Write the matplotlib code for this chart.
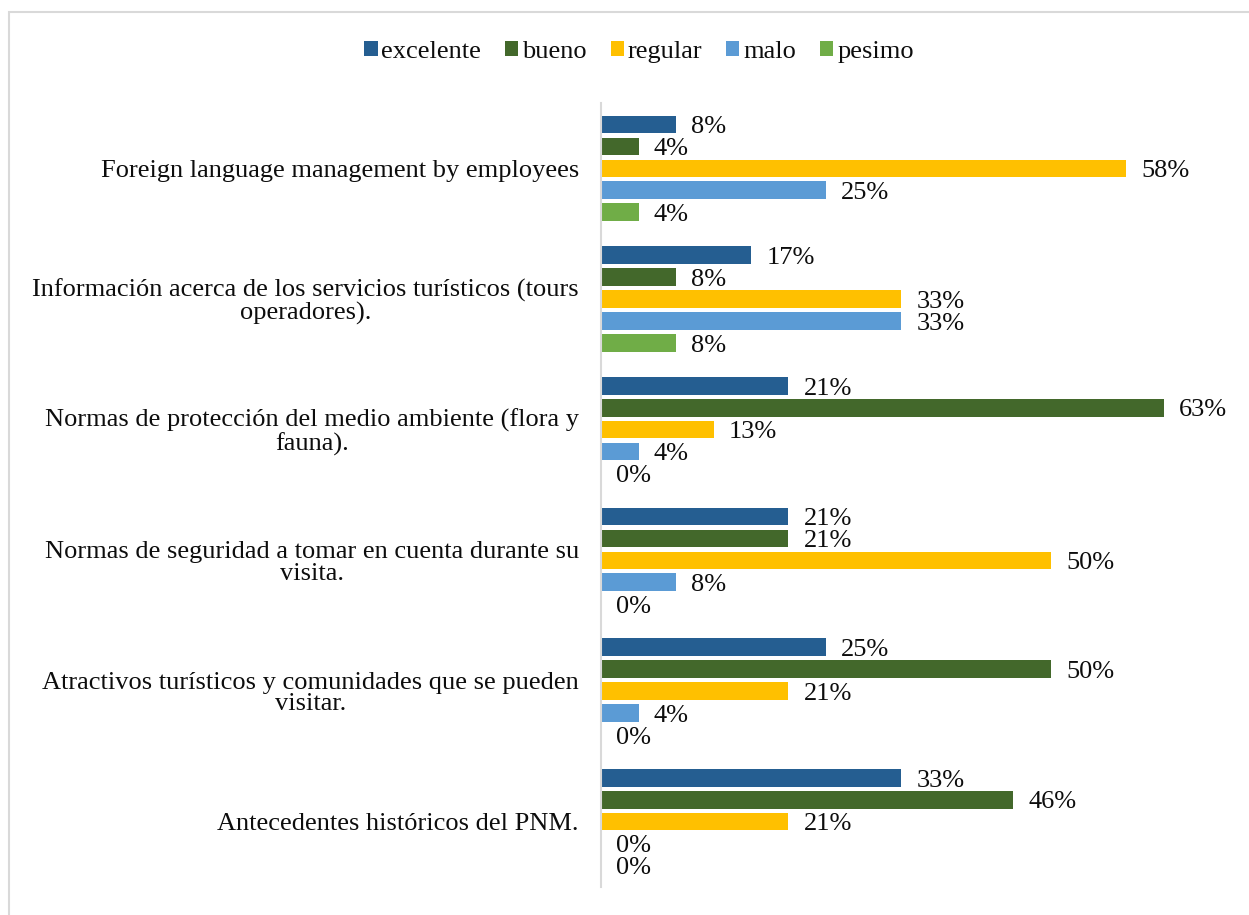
import numpy as np
import matplotlib.pyplot as plt
from matplotlib.patches import Rectangle, Patch

plt.rcParams['font.family'] = ['Liberation Serif', 'DejaVu Serif']

# categories from top to bottom
categories = [
    'Foreign language management by employees',
    'Información acerca de los servicios turísticos (tours\noperadores).',
    'Normas de protección del medio ambiente (flora y\nfauna).',
    'Normas de seguridad a tomar en cuenta durante su\nvisita.',
    'Atractivos turísticos y comunidades que se pueden\nvisitar.',
    'Antecedentes históricos del PNM.',
]
series = ['excelente', 'bueno', 'regular', 'malo', 'pesimo']
colors = ['#255E91', '#43682B', '#FFC000', '#5B9BD5', '#70AD47']

# percentages (n = 24 answers), one list per rating
excelente = [8.33, 16.67, 20.83, 20.83, 25.00, 33.33]
bueno = [4.17, 8.33, 62.50, 20.83, 50.00, 45.83]
regular = [58.33, 33.33, 12.50, 50.00, 20.83, 20.83]
malo = [25.00, 33.33, 4.17, 8.33, 4.17, 0.00]
pesimo = [4.17, 8.33, 0.00, 0.00, 0.00, 0.00]
values = [excelente, bueno, regular, malo, pesimo]

FS = 19
TXT = '#0d0d0d'

fig = plt.figure(figsize=(12.49, 9.15), dpi=100)
ax = fig.add_axes([601 / 1249, 1 - 887 / 915, 630 / 1249, 784 / 915])

# outer chart frame
fig.patches.append(Rectangle((9 / 1249, -0.1), 1.2, 1 - 12 / 915 + 0.1,
                             transform=fig.transFigure, fill=False,
                             edgecolor='#d9d9d9', linewidth=1.5))

n_cat = len(categories)
slot = 0.168
height = 0.135
centers = np.arange(n_cat)[::-1]  # top category gets the highest y

for i, (name, vals, col) in enumerate(zip(series, values, colors)):
    y = centers + (2 - i) * slot
    ax.barh(y, vals, height=height, color=col, label=name)
    for yy, v in zip(y, vals):
        ax.annotate(f'{int(v + 0.5)}%', xy=(v, yy), xytext=(11, -2),
                    textcoords='offset points', va='center', ha='left',
                    fontsize=FS, color=TXT)

ax.set_xlim(0, 70)
ax.set_ylim(-0.5, n_cat - 0.5)
ax.set_yticks(centers)
ax.set_yticklabels(categories, fontsize=FS, color=TXT, linespacing=1.0,
                   multialignment='center')
ax.tick_params(axis='y', length=0, pad=16)
ax.set_xticks([])
for s in ['top', 'right', 'bottom']:
    ax.spines[s].set_visible(False)
ax.spines['left'].set_color('#d9d9d9')
ax.spines['left'].set_linewidth(1.5)

handles = [Patch(facecolor=c, label=s) for s, c in zip(series, colors)]
leg = fig.legend(handles=handles, loc='center', ncol=5, frameon=False,
                 bbox_to_anchor=(639 / 1249, 1 - 52 / 915), fontsize=FS,
                 handlelength=0.5, handleheight=0.5, handletextpad=0.15,
                 columnspacing=0.9)
for t in leg.get_texts():
    t.set_color(TXT)

fig.savefig('out.png', dpi=100)
